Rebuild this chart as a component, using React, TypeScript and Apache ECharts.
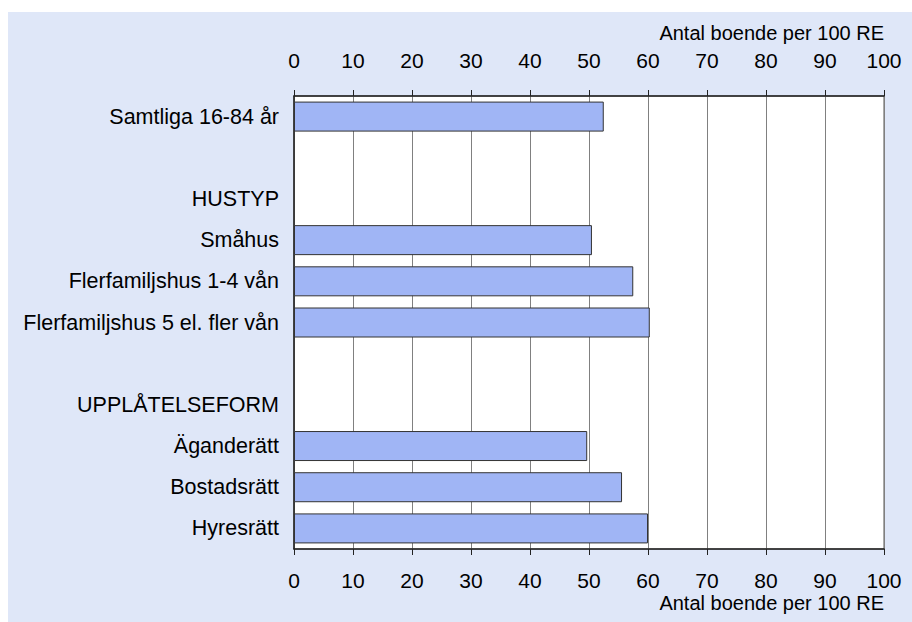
import React, { useEffect, useRef } from "react";
import * as echarts from "echarts";

const categories = [
  "Samtliga 16-84 år",
  "",
  "HUSTYP",
  "Småhus",
  "Flerfamiljshus 1-4 vån",
  "Flerfamiljshus 5 el. fler vån",
  " ",
  "UPPLÅTELSEFORM",
  "Äganderätt",
  "Bostadsrätt",
  "Hyresrätt",
];
const values: (number | null)[] = [52.5, null, null, 50.5, 57.5, 60.3, null, null, 49.7, 55.6, 60.0];
const tickValues = [0, 10, 20, 30, 40, 50, 60, 70, 80, 90, 100];
const axisTitle = "Antal boende per 100 RE";

const FONT = "'Liberation Sans', Arial, sans-serif";

export default function App() {
  const ref = useRef<HTMLDivElement>(null);
  useEffect(() => {
    if (!ref.current) return;
    const chart = echarts.init(ref.current, null, { renderer: "svg" });
    const xBase = {
      type: "value" as const,
      min: tickValues[0],
      max: tickValues[tickValues.length - 1],
      interval: 10,
      axisLine: { show: true, lineStyle: { color: "#222", width: 1.5 } },
      axisTick: { show: true, length: 6, lineStyle: { color: "#222" } },
      axisLabel: { color: "#000", fontSize: 21, fontFamily: FONT },
    };
    chart.setOption({
      animation: false,
      textStyle: { fontFamily: FONT },
      grid: {
        left: 286,
        right: 28,
        top: 84,
        bottom: 73,
        show: true,
        backgroundColor: "#ffffff",
        borderColor: "#555",
        borderWidth: 1,
      },
      xAxis: [
        {
          ...xBase,
          position: "top",
          axisLabel: { ...xBase.axisLabel, margin: 25 },
          splitLine: { show: true, lineStyle: { color: "#808080", width: 1 } },
        },
        {
          ...xBase,
          position: "bottom",
          axisLabel: { ...xBase.axisLabel, margin: 21 },
          splitLine: { show: false },
        },
      ],
      yAxis: {
        type: "category",
        data: categories,
        inverse: true,
        axisLine: { show: true, lineStyle: { color: "#222", width: 1.5 } },
        axisTick: { show: false },
        axisLabel: { color: "#000", fontSize: 21.5, fontFamily: FONT, margin: 15 },
        splitLine: { show: false },
      },
      graphic: [
        {
          type: "text",
          right: 28,
          top: 11,
          style: { text: axisTitle, fill: "#000", font: `20px ${FONT}` },
        },
        {
          type: "text",
          right: 28,
          top: 581,
          style: { text: axisTitle, fill: "#000", font: `20px ${FONT}` },
        },
      ],
      series: [
        {
          type: "bar",
          xAxisIndex: 0,
          data: values,
          barWidth: 30,
          itemStyle: { color: "#a0b5f5", borderColor: "#333", borderWidth: 1 },
        },
      ],
    });
    return () => chart.dispose();
  }, []);
  return (
    <div
      style={{
        position: "absolute",
        left: 8,
        top: 12,
        width: 904,
        height: 610,
        background: "#dfe7f8",
      }}
    >
      <div ref={ref} style={{ width: 904, height: 610 }} />
    </div>
  );
}
